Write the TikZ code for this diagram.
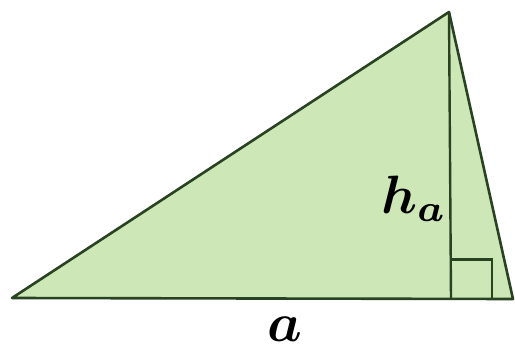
\documentclass[tikz,border=0pt]{standalone}
\usepackage{bm}
\begin{document}
\begin{tikzpicture}[x=1pt,y=-1pt,
  edge/.style={draw=strokegreen,line width=2.6pt,line join=round},
  thin/.style={draw=strokegreen,line width=2.4pt},
  lbl/.style={inner sep=0pt,text=black}]
\definecolor{fillgreen}{RGB}{205,232,182}
\definecolor{strokegreen}{RGB}{40,66,34}
\useasboundingbox (0,0) rectangle (515,351);
\coordinate (A) at (12,298);
\coordinate (C) at (449,12);
\coordinate (B) at (513,299);
\coordinate (H) at (451,298.5);
\fill[fillgreen] (A) -- (C) -- (B) -- cycle;
\draw[thin] (H) ++(0,-39) coordinate (S1) -- ++(41,0) coordinate (S2) -- ++(0,39) coordinate (S3);
\draw[thin] (C) -- (H);
\draw[edge] (A) -- (C) -- (B) -- cycle;
\node[lbl,anchor=base west,scale=5.4] (ha) at (380,213) {$\bm{h}_{\bm{a}}$};
\node[lbl,anchor=base,scale=5.5] (a) at (285,341) {$\bm{a}$};
\end{tikzpicture}
\end{document}
